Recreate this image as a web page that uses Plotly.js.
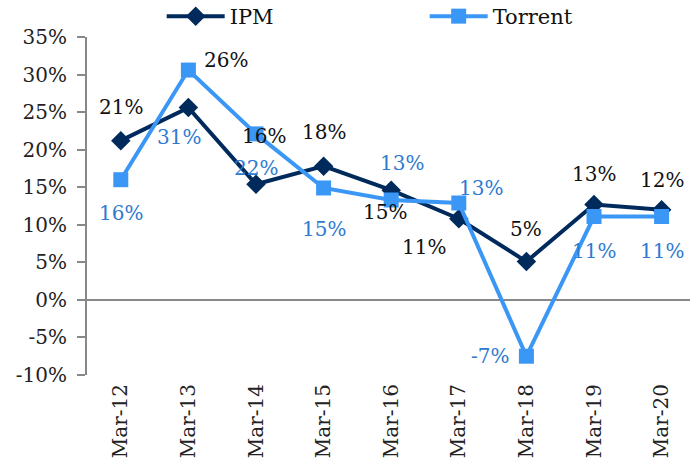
<!DOCTYPE html>
<html>
<head>
<meta charset="utf-8">
<script src="https://cdn.plot.ly/plotly-3.0.1.min.js"></script>
<style>
  html, body { margin: 0; padding: 0; background: #fff; }
  #chart { width: 690px; height: 465px; }
</style>
</head>
<body>
<div id="chart"></div>
<script>
const years = ['Mar-12', 'Mar-13', 'Mar-14', 'Mar-15', 'Mar-16', 'Mar-17', 'Mar-18', 'Mar-19', 'Mar-20'];
const ipm = [21.2, 25.6, 15.4, 17.8, 14.6, 10.8, 5.1, 12.7, 12.0];
const torrent = [16.0, 30.6, 22.1, 14.9, 13.3, 12.9, -7.5, 11.1, 11.1];
const ipmLabels = ['21%', '26%', '16%', '18%', '15%', '11%', '5%', '13%', '12%'];
const torrentLabels = ['16%', '31%', '22%', '15%', '13%', '13%', '-7%', '11%', '11%'];
const yTicks = [-10, -5, 0, 5, 10, 15, 20, 25, 30, 35];
const yTickText = ['-10%', '-5%', '0%', '5%', '10%', '15%', '20%', '25%', '30%', '35%'];

// label offsets in px (where Excel put them)
const ipmShift = [[0, 34], [38, 48], [8, 48], [0, 34], [-6, -22], [-35, -28], [0, 33], [0, 31], [0, 30]];
const torrentShift = [[0, -33], [-9, -67], [0, -34], [0, -41], [11, 37], [22, 15], [-36, 0], [0, -34], [0, -34]];

const navy = '#002a5c';
const blue = '#3b97f6';
const labelBlue = '#2f7ad0';
const font = 'DejaVu Serif, serif';

const data = [
  {
    x: years, y: ipm, name: 'IPM', type: 'scatter', mode: 'lines+markers',
    line: { color: navy, width: 4 },
    marker: { symbol: 'diamond', size: 15, color: navy }
  },
  {
    x: years, y: torrent, name: 'Torrent', type: 'scatter', mode: 'lines+markers',
    line: { color: blue, width: 4 },
    marker: { symbol: 'square', size: 15, color: blue }
  }
];

const annotations = [];
years.forEach((yr, i) => {
  annotations.push({
    x: yr, y: ipm[i], xref: 'x', yref: 'y', text: ipmLabels[i], showarrow: false,
    xshift: ipmShift[i][0], yshift: ipmShift[i][1],
    font: { family: font, size: 20, color: '#111' }
  });
  annotations.push({
    x: yr, y: torrent[i], xref: 'x', yref: 'y', text: torrentLabels[i], showarrow: false,
    xshift: torrentShift[i][0], yshift: torrentShift[i][1],
    font: { family: font, size: 20, color: labelBlue }
  });
});

const layout = {
  width: 690, height: 465,
  margin: { l: 87, r: 0, t: 37, b: 90, autoexpand: false },
  paper_bgcolor: '#fff', plot_bgcolor: '#fff',
  font: { family: font, size: 20, color: '#222' },
  showlegend: true,
  legend: {
    orientation: 'h', x: 0.56, xanchor: 'center', y: 1.0, yanchor: 'bottom',
    font: { family: font, size: 21, color: '#111' },
    entrywidth: 190, itemwidth: 58
  },
  xaxis: {
    type: 'category', range: [-0.5, 8.42],
    showgrid: false, showline: false, zeroline: false, ticks: '',
    tickangle: -90, tickfont: { family: font, size: 20, color: '#222' },
    ticklabelstandoff: 4,
    fixedrange: true
  },
  yaxis: {
    range: [-10, 35], tickmode: 'array', tickvals: yTicks, ticktext: yTickText,
    showgrid: false, showline: true, linecolor: '#888', linewidth: 2,
    ticks: 'outside', ticklen: 8, tickwidth: 2, tickcolor: '#888',
    ticklabelstandoff: 6,
    zeroline: true, zerolinecolor: '#888', zerolinewidth: 2,
    tickfont: { family: font, size: 20, color: '#222' },
    fixedrange: true
  },
  annotations: annotations
};

Plotly.newPlot('chart', data, layout, { displayModeBar: false, staticPlot: true });
</script>
</body>
</html>
